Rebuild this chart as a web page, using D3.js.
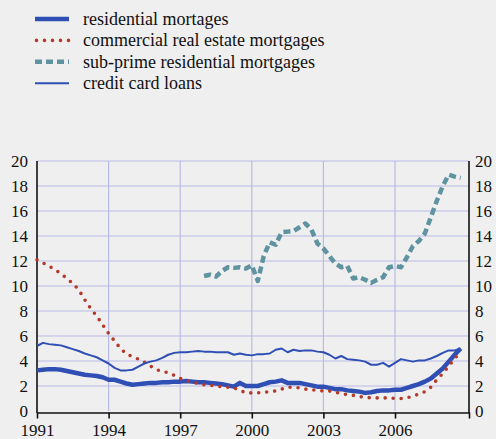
<!DOCTYPE html>
<html>
<head>
    <script src="https://d3js.org/d3.v7.min.js"></script>
</head>
<body style="margin:0; background:#efefef; font-family: 'Times New Roman', 'Liberation Serif', serif;">
    <div id="chart"></div>

    <script>
        // quarterly series, first quarter of 1991 onwards
        const startYear = 1991;
        const yearTicks = [1991, 1994, 1997, 2000, 2003, 2006];
        const valueTicks = [0, 2, 4, 6, 8, 10, 12, 14, 16, 18, 20];

        const residential = [
            3.25, 3.3, 3.35, 3.35,  3.3, 3.2, 3.1, 3.0,  2.9, 2.85, 2.8, 2.7,
            2.5, 2.5, 2.35, 2.2,  2.1, 2.15, 2.2, 2.25,  2.25, 2.3, 2.3, 2.35,
            2.35, 2.4, 2.35, 2.3,  2.3, 2.25, 2.2, 2.15,  2.05, 1.95, 2.25, 2.0,
            2.0, 2.0, 2.15, 2.3,  2.35, 2.45, 2.25, 2.25,  2.25, 2.15, 2.05, 1.95,
            1.95, 1.85, 1.75, 1.75,  1.65, 1.6, 1.55, 1.45,  1.5, 1.6, 1.65, 1.65,
            1.7, 1.7, 1.85, 2.0,  2.15, 2.35, 2.6, 3.0,  3.4, 3.95, 4.5, 5.0
        ];
        const commercial = [
            12.1, 11.85, 11.6, 11.3,  11.0, 10.6, 10.2, 9.7,  8.9, 8.2, 7.6, 6.9,
            6.2, 5.6, 5.0, 4.55,  4.35, 4.15, 3.9, 3.6,  3.3, 3.2, 3.05, 2.85,
            2.6, 2.45, 2.3, 2.2,  2.1, 2.05, 2.0, 1.95,  1.9, 1.85, 1.65, 1.45,
            1.45, 1.45, 1.5, 1.55,  1.6, 1.75, 1.9, 1.9,  1.85, 1.75, 1.7, 1.65,
            1.6, 1.6, 1.5, 1.4,  1.3, 1.25, 1.15, 1.1,  1.05, 1.05, 1.05, 1.05,
            1.0, 1.0, 1.05, 1.2,  1.35, 1.55, 1.9, 2.5,  3.0, 3.6, 4.2, 4.75
        ];
        const creditCard = [
            5.2, 5.45, 5.35, 5.3,  5.25, 5.1, 4.95, 4.8,  4.6, 4.45, 4.3, 4.05,
            3.8, 3.45, 3.25, 3.25,  3.3, 3.55, 3.8, 3.95,  4.05, 4.25, 4.5, 4.65,
            4.7, 4.7, 4.75, 4.8,  4.75, 4.75, 4.7, 4.7,  4.7, 4.5, 4.6, 4.5,
            4.45, 4.55, 4.55, 4.6,  4.9, 5.0, 4.7, 4.9,  4.8, 4.85, 4.85, 4.75,
            4.7, 4.5, 4.2, 4.4,  4.15, 4.1, 4.05, 3.95,  3.7, 3.7, 3.85, 3.55,
            3.85, 4.15, 4.05, 3.95,  4.05, 4.05, 4.2, 4.4,  4.65, 4.85, 4.85, 5.0
        ];
        // sub-prime series starts in 1998
        const subprimeStart = 1998;
        const subprime = [
            10.8, 10.9, 10.75, 11.2,  11.5, 11.45, 11.5, 11.4,  11.65, 10.4, 12.4, 13.5,
            13.3, 14.3, 14.35, 14.4,  14.7, 15.0, 14.5, 13.4,  13.0, 12.4, 11.8, 11.5,
            11.6, 10.6, 10.7, 10.5,  10.25, 10.5, 10.7, 11.5,  11.6, 11.5, 12.3, 13.2,
            13.6, 14.2, 15.5, 16.8,  18.0, 18.9, 18.75, 18.65
        ];

        const width = 496, height = 439;
        const plot = { left: 37, right: 469, top: 161, bottom: 411 };
        const fontName = '"Times New Roman", "Liberation Serif", serif';

        const x = d3.scaleLinear().domain([1991, 2009.1]).range([plot.left, plot.right]);
        const y = d3.scaleLinear().domain([0, 20]).range([plot.bottom, plot.top]);

        const toPoints = (vals, start) => vals.map((v, i) => ({ t: start + i / 4, v: v }));

        const series = [
            { name: 'residential mortages', data: toPoints(residential, startYear),
              color: '#2f4fb5', width: 4.5, dash: null, cap: 'butt' },
            { name: 'commercial real estate mortgages', data: toPoints(commercial, startYear),
              color: '#b5382a', width: 3.6, dash: '0 8', cap: 'round' },
            { name: 'sub-prime residential mortgages', data: toPoints(subprime, subprimeStart),
              color: '#5f93a0', width: 4.5, dash: '7 4', cap: 'butt' },
            { name: 'credit card loans', data: toPoints(creditCard, startYear),
              color: '#2f4fb5', width: 2, dash: null, cap: 'butt' }
        ];

        const svg = d3.select('#chart')
            .append('svg')
            .attr('width', width)
            .attr('height', height)
            .style('font-family', fontName);

        svg.append('rect')
            .attr('width', width)
            .attr('height', height)
            .attr('fill', '#efefef');

        // grid
        svg.append('g')
            .selectAll('line')
            .data(valueTicks.filter(d => d > 0))
            .join('line')
            .attr('x1', plot.left).attr('x2', plot.right)
            .attr('y1', d => y(d)).attr('y2', d => y(d))
            .attr('stroke', '#b9bbe6')
            .attr('stroke-width', 1.2);

        svg.append('g')
            .selectAll('line')
            .data(yearTicks.slice(1))
            .join('line')
            .attr('x1', d => x(d)).attr('x2', d => x(d))
            .attr('y1', plot.top).attr('y2', plot.bottom)
            .attr('stroke', '#b9bbe6')
            .attr('stroke-width', 1.2);

        // axes
        const leftAxis = svg.append('g')
            .attr('transform', `translate(${plot.left},0)`)
            .call(d3.axisLeft(y).tickValues(valueTicks).tickSize(0).tickPadding(9));
        const rightAxis = svg.append('g')
            .attr('transform', `translate(${plot.right},0)`)
            .call(d3.axisRight(y).tickValues(valueTicks).tickSize(0).tickPadding(6));
        const bottomAxis = svg.append('g')
            .attr('transform', `translate(0,${plot.bottom + 1.5})`)
            .call(d3.axisBottom(x).tickValues(yearTicks.concat([2009.1])).tickFormat(d => d > 2008 ? '' : d)
                .tickSize(6).tickSizeOuter(0).tickPadding(5));

        [leftAxis, rightAxis, bottomAxis].forEach(g => {
            g.attr('font-family', null).attr('font-size', null);
            g.select('.domain').attr('stroke', '#111').attr('stroke-width', 1.6);
            g.selectAll('.tick line').attr('stroke', '#111').attr('stroke-width', 1.6);
            g.selectAll('text')
                .style('font-family', fontName)
                .style('font-size', '17px')
                .attr('fill', '#111');
        });
        leftAxis.select('.domain').attr('d', `M0,${plot.top}V${plot.bottom + 2}`);
        rightAxis.select('.domain').attr('d', `M0,${plot.top}V${plot.bottom + 2}`);

        // lines
        const line = d3.line()
            .x(d => x(d.t))
            .y(d => y(d.v));

        svg.append('g')
            .selectAll('path')
            .data(series)
            .join('path')
            .attr('d', d => line(d.data))
            .attr('fill', 'none')
            .attr('stroke', d => d.color)
            .attr('stroke-width', d => d.width)
            .attr('stroke-dasharray', d => d.dash)
            .attr('stroke-linecap', d => d.cap)
            .attr('stroke-linejoin', 'round');

        // legend
        const legend = svg.append('g')
            .selectAll('g')
            .data(series)
            .join('g')
            .attr('transform', (d, i) => `translate(35,${19 + i * 21.4})`);

        legend.append('line')
            .attr('x1', d => d.cap === 'round' ? 1.5 : 0)
            .attr('x2', 34)
            .attr('stroke', d => d.color)
            .attr('stroke-width', d => d.width)
            .attr('stroke-dasharray', d => d.dash)
            .attr('stroke-linecap', d => d.cap);

        legend.append('text')
            .attr('x', 48)
            .attr('dy', '0.33em')
            .attr('fill', '#111')
            .style('font-family', fontName)
            .style('font-size', '18px')
            .text(d => d.name);
    </script>
</body>
</html>
